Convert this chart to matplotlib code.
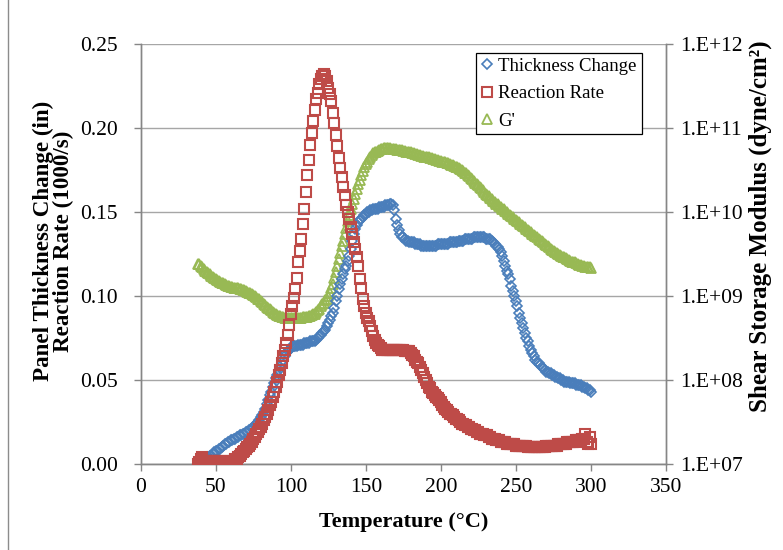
import numpy as np
import matplotlib.pyplot as plt
from matplotlib.ticker import FixedLocator, FuncFormatter
from matplotlib.lines import Line2D

# all three series logged once per degree C
temp = np.arange(38, 301)

# Panel thickness change (in)
thick_change = [
    0.000, 0.001, 0.002, 0.002, 0.003, 0.003, 0.004, 0.004, 0.005, 0.005,
    0.006, 0.007, 0.008, 0.008, 0.009, 0.009, 0.010, 0.011, 0.012, 0.012,
    0.013, 0.013, 0.014, 0.014, 0.015, 0.015, 0.016, 0.016, 0.017, 0.017,
    0.018, 0.018, 0.019, 0.019, 0.020, 0.020, 0.021, 0.022, 0.023, 0.024,
    0.025, 0.026, 0.028, 0.029, 0.031, 0.033, 0.036, 0.038, 0.041, 0.043,
    0.046, 0.048, 0.051, 0.053, 0.056, 0.058, 0.060, 0.062, 0.064, 0.066,
    0.067, 0.068, 0.069, 0.070, 0.070, 0.070, 0.070, 0.071, 0.071, 0.071,
    0.071, 0.072, 0.072, 0.072, 0.072, 0.073, 0.073, 0.073, 0.073, 0.074,
    0.075, 0.076, 0.077, 0.078, 0.079, 0.080, 0.082, 0.084, 0.086, 0.088,
    0.090, 0.093, 0.097, 0.100, 0.104, 0.107, 0.110, 0.113, 0.116, 0.118,
    0.121, 0.124, 0.128, 0.133, 0.137, 0.140, 0.142, 0.144, 0.145, 0.146,
    0.147, 0.148, 0.149, 0.150, 0.150, 0.151, 0.151, 0.152, 0.152, 0.152,
    0.152, 0.153, 0.153, 0.153, 0.153, 0.154, 0.154, 0.154, 0.155, 0.155,
    0.154, 0.151, 0.146, 0.142, 0.139, 0.137, 0.135, 0.135, 0.134, 0.133,
    0.133, 0.132, 0.132, 0.132, 0.132, 0.131, 0.131, 0.131, 0.131, 0.130,
    0.130, 0.130, 0.130, 0.130, 0.130, 0.130, 0.130, 0.130, 0.130, 0.130,
    0.131, 0.131, 0.131, 0.131, 0.131, 0.131, 0.131, 0.131, 0.132, 0.132,
    0.132, 0.132, 0.132, 0.132, 0.133, 0.133, 0.133, 0.133, 0.134, 0.134,
    0.134, 0.134, 0.134, 0.134, 0.135, 0.135, 0.135, 0.135, 0.135, 0.135,
    0.135, 0.135, 0.134, 0.134, 0.134, 0.134, 0.133, 0.132, 0.131, 0.130,
    0.129, 0.128, 0.126, 0.124, 0.121, 0.118, 0.115, 0.113, 0.110, 0.106,
    0.103, 0.100, 0.097, 0.094, 0.090, 0.087, 0.084, 0.081, 0.078, 0.075,
    0.073, 0.070, 0.068, 0.066, 0.064, 0.062, 0.061, 0.060, 0.059, 0.058,
    0.057, 0.056, 0.055, 0.055, 0.054, 0.054, 0.053, 0.053, 0.052, 0.052,
    0.051, 0.051, 0.050, 0.050, 0.049, 0.049, 0.049, 0.049, 0.048, 0.048,
    0.048, 0.048, 0.047, 0.047, 0.047, 0.047, 0.046, 0.046, 0.045, 0.045,
    0.044, 0.044, 0.043,
]

# Reaction rate (1000/s)
rate = [
    0.000, 0.001, 0.003, 0.004, 0.002, 0.002, 0.002, 0.001, 0.001, 0.002,
    0.002, 0.002, 0.002, 0.002, 0.002, 0.002, 0.001, 0.001, 0.001, 0.001,
    0.001, 0.002, 0.002, 0.002, 0.002, 0.003, 0.003, 0.004, 0.005, 0.006,
    0.007, 0.008, 0.009, 0.010, 0.011, 0.012, 0.013, 0.015, 0.016, 0.018,
    0.019, 0.021, 0.022, 0.024, 0.026, 0.028, 0.030, 0.032, 0.035, 0.037,
    0.040, 0.043, 0.046, 0.049, 0.053, 0.056, 0.060, 0.064, 0.068, 0.072,
    0.077, 0.083, 0.089, 0.094, 0.099, 0.104, 0.111, 0.120, 0.127, 0.134,
    0.143, 0.152, 0.162, 0.172, 0.181, 0.190, 0.197, 0.204, 0.211, 0.217,
    0.221, 0.226, 0.229, 0.231, 0.232, 0.231, 0.228, 0.224, 0.220, 0.216,
    0.209, 0.203, 0.196, 0.189, 0.182, 0.176, 0.171, 0.165, 0.160, 0.154,
    0.150, 0.146, 0.141, 0.137, 0.132, 0.128, 0.123, 0.118, 0.110, 0.105,
    0.098, 0.094, 0.090, 0.087, 0.085, 0.082, 0.079, 0.076, 0.074, 0.072,
    0.071, 0.070, 0.069, 0.068, 0.068, 0.068, 0.068, 0.068, 0.068, 0.068,
    0.068, 0.068, 0.068, 0.068, 0.068, 0.068, 0.068, 0.068, 0.067, 0.067,
    0.067, 0.067, 0.066, 0.065, 0.064, 0.062, 0.061, 0.060, 0.058, 0.056,
    0.054, 0.052, 0.050, 0.048, 0.046, 0.045, 0.043, 0.042, 0.041, 0.040,
    0.039, 0.038, 0.037, 0.035, 0.034, 0.033, 0.032, 0.031, 0.030, 0.030,
    0.029, 0.028, 0.027, 0.027, 0.026, 0.025, 0.024, 0.024, 0.023, 0.023,
    0.022, 0.022, 0.021, 0.021, 0.020, 0.020, 0.019, 0.019, 0.018, 0.018,
    0.018, 0.017, 0.017, 0.017, 0.016, 0.016, 0.015, 0.015, 0.015, 0.014,
    0.014, 0.014, 0.013, 0.013, 0.013, 0.013, 0.012, 0.012, 0.012, 0.012,
    0.012, 0.012, 0.011, 0.011, 0.011, 0.011, 0.011, 0.011, 0.011, 0.011,
    0.010, 0.010, 0.010, 0.010, 0.010, 0.010, 0.010, 0.010, 0.010, 0.010,
    0.010, 0.010, 0.011, 0.011, 0.011, 0.011, 0.011, 0.011, 0.011, 0.011,
    0.012, 0.012, 0.012, 0.012, 0.012, 0.012, 0.013, 0.013, 0.013, 0.013,
    0.013, 0.013, 0.014, 0.014, 0.014, 0.014, 0.015, 0.015, 0.018, 0.013,
    0.012, 0.016, 0.012,
]

# Shear storage modulus G' (dyne/cm^2), kept as log10
gp_log10 = [
    9.38, 9.38, 9.36, 9.34, 9.32, 9.30, 9.29, 9.27, 9.26, 9.24,
    9.23, 9.21, 9.20, 9.19, 9.18, 9.17, 9.16, 9.15, 9.14, 9.13,
    9.12, 9.12, 9.11, 9.11, 9.10, 9.10, 9.09, 9.09, 9.08, 9.08,
    9.07, 9.07, 9.06, 9.05, 9.04, 9.03, 9.02, 9.01, 9.00, 8.99,
    8.97, 8.96, 8.94, 8.93, 8.91, 8.89, 8.87, 8.86, 8.84, 8.83,
    8.81, 8.80, 8.78, 8.77, 8.76, 8.76, 8.75, 8.75, 8.74, 8.74,
    8.74, 8.74, 8.74, 8.74, 8.74, 8.74, 8.74, 8.74, 8.74, 8.74,
    8.75, 8.75, 8.75, 8.75, 8.76, 8.76, 8.77, 8.78, 8.79, 8.81,
    8.83, 8.85, 8.88, 8.90, 8.92, 8.95, 8.97, 9.00, 9.04, 9.09,
    9.14, 9.21, 9.28, 9.36, 9.44, 9.51, 9.59, 9.66, 9.74, 9.81,
    9.89, 9.96, 10.03, 10.09, 10.15, 10.21, 10.27, 10.33, 10.38, 10.44,
    10.49, 10.53, 10.57, 10.60, 10.63, 10.66, 10.68, 10.70, 10.71, 10.72,
    10.73, 10.74, 10.75, 10.75, 10.76, 10.76, 10.76, 10.76, 10.76, 10.75,
    10.75, 10.75, 10.75, 10.74, 10.74, 10.74, 10.74, 10.73, 10.73, 10.72,
    10.72, 10.71, 10.71, 10.70, 10.70, 10.69, 10.69, 10.68, 10.68, 10.67,
    10.67, 10.66, 10.66, 10.65, 10.65, 10.64, 10.64, 10.63, 10.63, 10.62,
    10.62, 10.61, 10.61, 10.60, 10.60, 10.59, 10.58, 10.58, 10.57, 10.56,
    10.56, 10.55, 10.54, 10.53, 10.52, 10.51, 10.50, 10.49, 10.47, 10.46,
    10.44, 10.43, 10.41, 10.39, 10.37, 10.35, 10.33, 10.32, 10.30, 10.28,
    10.26, 10.24, 10.22, 10.20, 10.19, 10.17, 10.15, 10.13, 10.12, 10.10,
    10.09, 10.07, 10.06, 10.04, 10.03, 10.01, 10.00, 9.98, 9.97, 9.95,
    9.94, 9.92, 9.91, 9.89, 9.88, 9.86, 9.85, 9.83, 9.82, 9.80,
    9.79, 9.77, 9.76, 9.74, 9.73, 9.71, 9.70, 9.68, 9.67, 9.65,
    9.64, 9.62, 9.61, 9.59, 9.58, 9.56, 9.55, 9.53, 9.52, 9.51,
    9.50, 9.49, 9.48, 9.47, 9.46, 9.45, 9.44, 9.43, 9.42, 9.41,
    9.40, 9.40, 9.39, 9.38, 9.37, 9.37, 9.36, 9.36, 9.35, 9.35,
    9.34, 9.34, 9.33,
]
gp = 10.0 ** np.array(gp_log10)

x_ticks = [0, 50, 100, 150, 200, 250, 300, 350]
left_ticks = [0.00, 0.05, 0.10, 0.15, 0.20, 0.25]
right_ticks = [1e7, 1e8, 1e9, 1e10, 1e11, 1e12]

blue = '#4A7EBB'
red = '#BE4B48'
green = '#98B954'
axis_grey = '#868686'

plt.rcParams['font.family'] = ['Liberation Serif', 'DejaVu Serif']

fig = plt.figure(figsize=(7.83, 5.5), dpi=100)
ax2 = fig.add_axes([0.180, 0.1564, 0.6706, 0.7636])
ax = ax2.twinx()
# left-hand axis sits on top so its series overlap G'
ax.yaxis.tick_left()
ax.yaxis.set_label_position('left')
ax2.yaxis.tick_right()
ax2.yaxis.set_label_position('right')
ax.set_zorder(ax2.get_zorder() + 1)
ax.patch.set_visible(False)

# G' on the log axis
ax2.plot(temp, gp, linestyle='none', marker='^', ms=7.0, mfc='none',
         mec=green, mew=1.3)
ax2.set_yscale('log')
ax2.set_ylim(1e7, 1e12)
ax2.yaxis.set_major_locator(FixedLocator(right_ticks))
ax2.yaxis.set_minor_locator(FixedLocator([]))
ax2.yaxis.set_major_formatter(FuncFormatter(lambda v, p: '1.E+%02d' % round(np.log10(v))))
ax2.grid(axis='y', color='#A6A6A6', linewidth=1.0)
ax2.set_axisbelow(True)

ax.plot(temp, thick_change, linestyle='none', marker='D', ms=5.0, mfc='none',
        mec=blue, mew=1.2, zorder=3)
ax.plot(temp, rate, linestyle='none', marker='s', ms=6.8, mfc='none',
        mec=red, mew=1.5, zorder=4)
ax.set_ylim(0, 0.25)
ax.yaxis.set_major_locator(FixedLocator(left_ticks))
ax.yaxis.set_major_formatter(FuncFormatter(lambda v, p: '%.2f' % v))

for a in (ax, ax2):
    a.set_xlim(0, 350)
    a.xaxis.set_major_locator(FixedLocator(x_ticks))
    a.tick_params(axis='both', which='major', labelsize=15.5, color=axis_grey,
                  length=5, width=1.0, direction='out', pad=5)
    a.spines['top'].set_visible(False)
    for side in ('left', 'right', 'bottom'):
        a.spines[side].set_color(axis_grey)
        a.spines[side].set_linewidth(1.0)
ax.tick_params(axis='y', pad=11.5)

ax2.set_xlabel('Temperature (°C)', fontsize=16, fontweight='bold', labelpad=11)
ax.set_ylabel('Panel Thickness Change (in)\nReaction Rate (1000/s)',
              fontsize=16.6, fontweight='bold', linespacing=0.9)
ax.yaxis.set_label_coords(-0.128, 0.531)
ax2.set_ylabel('Shear Storage Modulus (dyne/cm²)', fontsize=18.0, fontweight='bold')
ax2.yaxis.set_label_coords(1.158, 0.566)

handles = [
    Line2D([], [], linestyle='none', marker='D', ms=5.0, mfc='none', mec=blue, mew=1.2),
    Line2D([], [], linestyle='none', marker='s', ms=6.8, mfc='none', mec=red, mew=1.5),
    Line2D([], [], linestyle='none', marker='^', ms=7.0, mfc='none', mec=green, mew=1.3),
]
leg = ax.legend(handles, ['Thickness Change', 'Reaction Rate', "G'"],
                loc='upper left', bbox_to_anchor=(0.638, 0.979), fontsize=13.5,
                frameon=True, fancybox=False, framealpha=1.0, edgecolor='black',
                handlelength=0.7, handletextpad=0.25, borderpad=0.25,
                labelspacing=0.55, borderaxespad=0.0)
leg.get_frame().set_linewidth(0.9)

# chart-area edge on the left
fig.add_artist(Line2D([8 / 783, 8 / 783], [0, 1], transform=fig.transFigure,
                      color='#8C8C8C', linewidth=1.0))

fig.savefig('out.png', dpi=100)
